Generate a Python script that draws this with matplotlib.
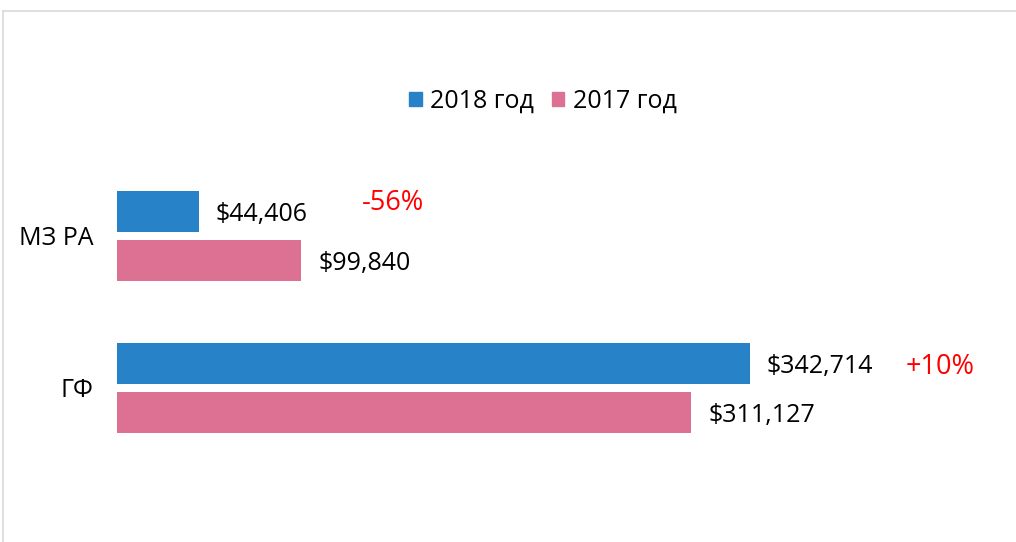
import matplotlib.pyplot as plt
from matplotlib.lines import Line2D
from matplotlib.patches import Patch
import numpy as np

categories = ['ГФ', 'МЗ РА']
values_2018 = [342714, 44406]
values_2017 = [311127, 99840]
series_names = ['2018 год', '2017 год']
colors = ['#2882C8', '#DD7193']

plt.rcParams['font.family'] = ['Open Sans', 'DejaVu Sans']

W, H = 1016, 542
fig = plt.figure(figsize=(W / 100, H / 100), dpi=100)

# axes placed in pixel terms: bars start at x=117
left, right, top, bottom = 117, 1003, 160, 500
ax = fig.add_axes([left / W, 1 - bottom / H, (right - left) / W, (bottom - top) / H])

y = np.arange(len(categories))
offset = 0.163
height = 0.27
ax.barh(y + offset, values_2018, height=height, color=colors[0])
ax.barh(y - offset, values_2017, height=height, color=colors[1])

ax.set_xlim(0, 480000)
ax.set_ylim(-0.737, 1.5)

px = 480000 / (right - left)  # data units per pixel
for i in range(len(categories)):
    ax.text(values_2018[i] + 17 * px, y[i] + offset - 0.02, f'${values_2018[i]:,}',
            va='center', ha='left', fontsize=18)
    ax.text(values_2017[i] + 17 * px, y[i] - offset - 0.02, f'${values_2017[i]:,}',
            va='center', ha='left', fontsize=18)

# change labels
changes = [(a - b) / b * 100 for a, b in zip(values_2018, values_2017)]
pct_pos = [(427200, 0.135), (132650, 1.215)]
for c, (px_, py_) in zip(changes, pct_pos):
    ax.text(px_, py_, f'{c:+.0f}%', color='red', fontsize=19.5, va='center', ha='left')

ax.set_yticks(y)
ax.set_yticklabels(categories, fontsize=18)
ax.tick_params(axis='y', length=0, pad=17)
ax.set_xticks([])
for s in ax.spines.values():
    s.set_visible(False)

handles = [Patch(color=colors[0]), Patch(color=colors[1])]
fig.legend(handles, series_names, loc='center', bbox_to_anchor=(543 / W, 1 - 101 / H),
           ncol=2, frameon=False, fontsize=18, handlelength=0.5, handleheight=0.5,
           handletextpad=0.35, columnspacing=0.7)

# outer chart border (top and left visible)
fig.add_artist(Line2D([3 / W, 1], [1 - 11 / H, 1 - 11 / H], color='#d9d9d9', lw=1.2))
fig.add_artist(Line2D([3 / W, 3 / W], [0, 1 - 11 / H], color='#d9d9d9', lw=1.2))

fig.savefig('out.png', dpi=100)
